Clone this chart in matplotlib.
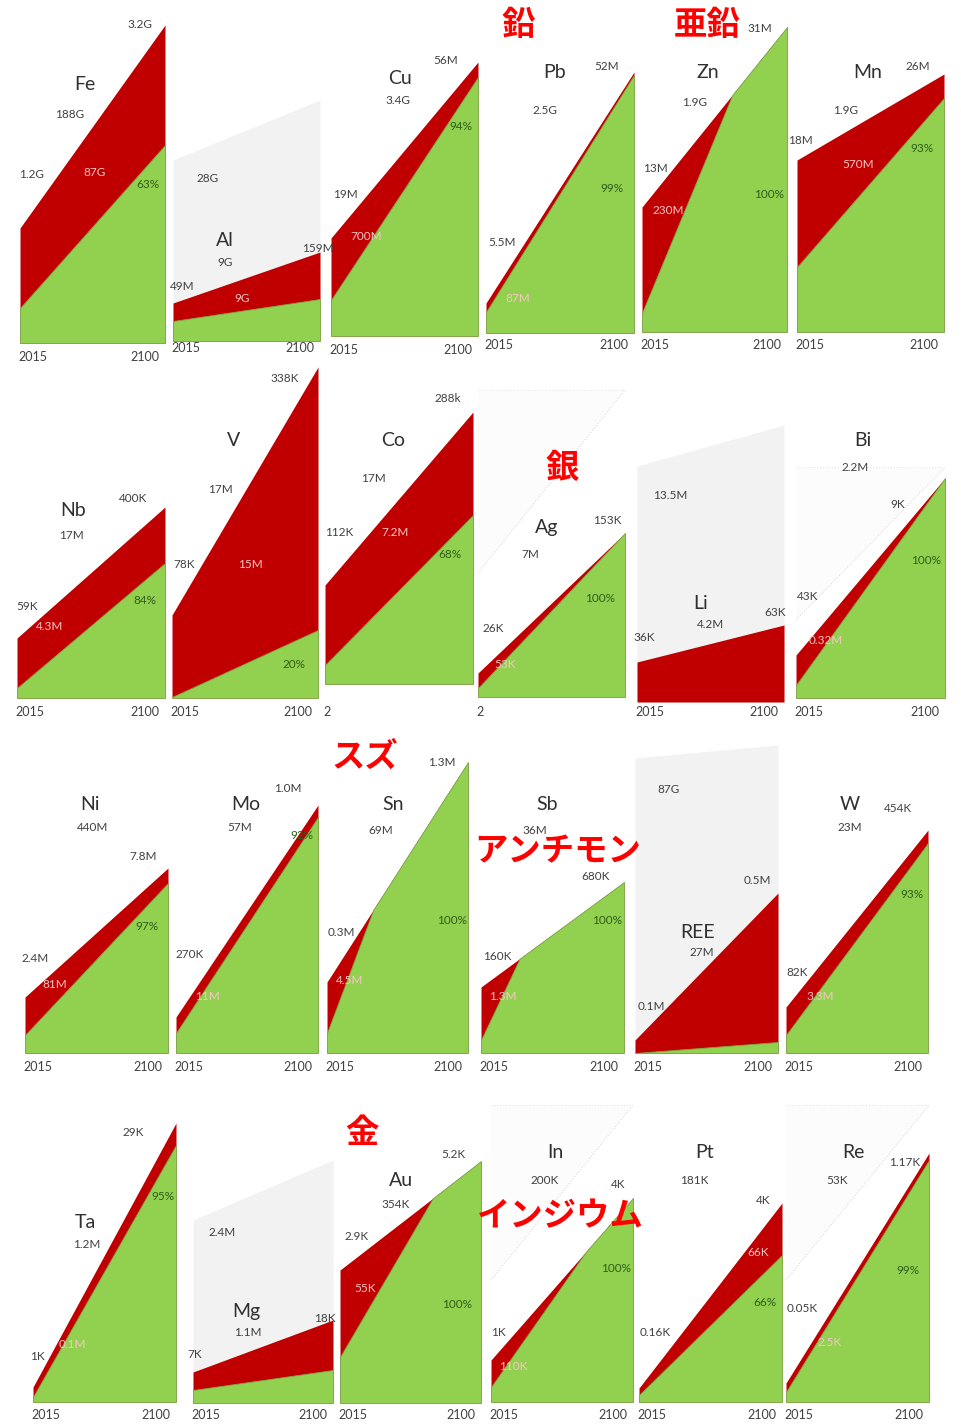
import matplotlib
matplotlib.use("Agg")
import matplotlib.pyplot as plt

# ---- data (heights, arbitrary flow units) ----
elements = ["Fe", "Al", "Cu", "Pb", "Zn", "Mn",
            "Nb", "V", "Co", "Ag", "Li", "Bi",
            "Ni", "Mo", "Sn", "Sb", "REE", "W",
            "Ta", "Mg", "Au", "In", "Pt", "Re"]

total_2015 = [115, 38, 98, 30, 125, 172,
              60, 83, 99, 24, 40, 43,
              56, 36, 71, 66, 13, 46,
              15, 31, 133, 42, 14, 19]
total_2100 = [318, 89, 274, 261, 305, 258,
              191, 331, 272, 164, 77, 220,
              185, 248, 291, 171, 160, 223,
              279, 83, 242, 204, 199, 249]
recycled_2015 = [35, 20, 36, 21, 19, 65,
                 10, 1, 19, 9, 0, 13,
                 18, 20, 20, 13, 0, 18,
                 5, 13, 46, 15, 7, 10]
recycled_2100 = [198, 42, 259, 258, 305, 234,
                 135, 68, 169, 164, 0, 220,
                 170, 236, 291, 171, 11, 210,
                 257, 33, 242, 204, 147, 242]
# year at which recycling covers all demand (None = never)
merge_year = [None, None, None, None, 2068, None,
              None, None, None, None, None, None,
              None, None, 2043, 2038, None, None,
              None, None, 2071, 2072, None, None]
# reserves drawn as a grey block
reserve = {"Al": (181, 241), "Li": (236, 277), "REE": (295, 308), "Mg": (183, 243)}
# faint dotted wedges
wedge = {"Ag": (124, 307), "Bi": (78, 231), "In": (122, 297), "Re": (122, 297)}

cum_label = ["188G", "9G", "3.4G", "2.5G", "1.9G", "1.9G",
             "17M", "17M", "17M", "7M", "4.2M", "2.2M",
             "440M", "57M", "69M", "36M", "27M", "23M",
             "1.2M", "1.1M", "354K", "200K", "181K", "53K"]
start_label = ["1.2G", "49M", "19M", "5.5M", "13M", "18M",
               "59K", "78K", "112K", "26K", "36K", "43K",
               "2.4M", "270K", "0.3M", "160K", "0.1M", "82K",
               "1K", "7K", "2.9K", "1K", "0.16K", "0.05K"]
end_label = ["3.2G", "159M", "56M", "52M", "31M", "26M",
             "400K", "338K", "288k", "153K", "63K", "9K",
             "7.8M", "1.0M", "1.3M", "680K", "0.5M", "454K",
             "29K", "18K", "5.2K", "4K", "4K", "1.17K"]
mined_label = ["87G", "9G", "700M", "87M", "230M", "570M",
               "4.3M", "15M", "7.2M", "53K", None, "0.32M",
               "81M", "11M", "4.5M", "1.3M", None, "3.3M",
               "0.1M", None, "55K", "110K", "66K", "2.5K"]
share_label = ["63%", None, "94%", "99%", "100%", "93%",
               "84%", "20%", "68%", "100%", None, "100%",
               "97%", "92%", "100%", "100%", None, "93%",
               "95%", None, "100%", "100%", "66%", "99%"]
reserve_label = {"Al": "28G", "Li": "13.5M", "REE": "87G", "Mg": "2.4M"}

headers = ["鉛", "亜鉛", "銀", "スズ", "アンチモン", "金", "インジウム"]

# ---- layout (pixels in a 961x1425 canvas) ----
W, H = 961, 1425
row_top = [20, 20, 20, 20, 20, 20,
           365, 365, 365, 365, 365, 365,
           740, 740, 740, 740, 740, 740,
           1100, 1100, 1100, 1100, 1100, 1100]
panel_lr = [(20, 165), (173, 320), (331, 478), (486, 634), (642, 787), (797, 944),
            (17, 165), (172, 318), (325, 473), (478, 625), (637, 784), (796, 945),
            (25, 168), (176, 318), (327, 468), (481, 624), (635, 778), (786, 928),
            (33, 176), (193, 333), (340, 481), (491, 633), (639, 782), (786, 929)]
panel_bottom = [343, 341, 336, 333, 332, 332,
                698, 698, 684, 697, 702, 698,
                1053, 1053, 1053, 1053, 1053, 1053,
                1402, 1403, 1403, 1402, 1402, 1402]
year_y = [357, 348, 350, 345, 345, 345] + [712] * 6 + [1067] * 6 + [1415] * 6
text_pos = {
    "Fe": [(85, 85), (70, 114), (32, 175), (140, 24), (95, 173), (148, 184)],
    "Al": [(225, 240), (225, 262), (182, 287), (318, 249), (242, 299), None],
    "Cu": [(400, 78), (398, 101), (345, 195), (446, 61), (366, 237), (461, 126)],
    "Pb": [(555, 73), (545, 110), (502, 243), (607, 67), (518, 298), (612, 188)],
    "Zn": [(708, 73), (695, 102), (655, 168), (760, 28), (668, 210), (769, 194)],
    "Mn": [(868, 73), (846, 111), (800, 140), (918, 67), (858, 165), (922, 148)],
    "Nb": [(73, 511), (71, 535), (27, 607), (133, 498), (50, 627), (145, 601)],
    "V": [(234, 440), (220, 490), (184, 565), (285, 379), (250, 565), (294, 665)],
    "Co": [(393, 440), (373, 478), (339, 532), (448, 399), (395, 532), (450, 555)],
    "Ag": [(547, 528), (530, 555), (493, 629), (607, 521), (505, 665), (600, 598)],
    "Li": [(701, 603), (711, 625), (644, 638), (775, 612), None, None],
    "Bi": [(863, 440), (855, 467), (808, 597), (898, 505), (826, 640), (926, 560)],
    "Ni": [(90, 804), (93, 827), (35, 959), (143, 856), (55, 985), (147, 927)],
    "Mo": [(246, 804), (240, 827), (190, 954), (288, 788), (207, 996), (302, 835)],
    "Sn": [(393, 804), (381, 831), (341, 933), (442, 762), (350, 980), (452, 920)],
    "Sb": [(547, 804), (535, 831), (497, 956), (596, 876), (503, 997), (607, 920)],
    "REE": [(698, 932), (702, 952), (651, 1007), (757, 880), None, None],
    "W": [(850, 804), (850, 827), (797, 972), (898, 808), (820, 996), (912, 895)],
    "Ta": [(85, 1222), (87, 1245), (37, 1357), (133, 1133), (72, 1344), (163, 1196)],
    "Mg": [(246, 1312), (248, 1332), (195, 1355), (325, 1318), None, None],
    "Au": [(401, 1180), (396, 1204), (357, 1236), (453, 1155), (365, 1288), (457, 1305)],
    "In": [(555, 1153), (545, 1180), (498, 1333), (618, 1185), (513, 1367), (616, 1268)],
    "Pt": [(705, 1153), (694, 1180), (655, 1332), (763, 1200), (758, 1252), (765, 1303)],
    "Re": [(853, 1153), (837, 1180), (802, 1308), (905, 1162), (830, 1343), (908, 1270)],
}
reserve_pos = {"Al": (208, 178), "Li": (670, 496), "REE": (668, 790), "Mg": (222, 1233)}
header_pos = [(518, 25), (707, 25), (562, 468), (365, 757), (558, 852), (362, 1133), (560, 1217)]

RED = "#C00000"
GREEN = "#92D050"
GREY = "#F2F2F2"
TXT = "#404040"
LATIN = ["Lato", "DejaVu Sans"]

fig = plt.figure(figsize=(W / 100, H / 100), dpi=100)


def ftext(x, y, s, **kw):
    kw.setdefault("family", LATIN)
    fig.text(x / W, 1 - y / H, s, ha="center", va="center", **kw)


for i, el in enumerate(elements):
    left, right = panel_lr[i]
    bottom, top = panel_bottom[i], row_top[i]
    ax = fig.add_axes([left / W, 1 - bottom / H, (right - left) / W, (bottom - top) / H])
    ax.set_xlim(2015, 2100)
    ax.set_ylim(0, bottom - top)
    ax.axis("off")

    if el in wedge:
        lo, hi = wedge[el]
        ax.fill_between([2015, 2100], [lo, hi], [hi, hi], color="#fcfcfc", lw=0)
        ax.plot([2015, 2100], [lo, hi], ls=":", color="#e0e0e0", lw=0.8)
        ax.plot([2015, 2100], [hi, hi], ls=":", color="#e8e8e8", lw=0.8)
    if el in reserve:
        r0, r1 = reserve[el]
        ax.fill_between([2015, 2100], 0, [r0, r1], color=GREY, lw=0)

    t0, t1 = total_2015[i], total_2100[i]
    m = merge_year[i]
    if m is None:
        years = [2015, 2100]
        tot = [t0, t1]
        rec = [recycled_2015[i], recycled_2100[i]]
    else:
        tm = t0 + (t1 - t0) * (m - 2015) / 85
        years = [2015, m, 2100]
        tot = [t0, tm, t1]
        rec = [recycled_2015[i], tm, t1]
    ax.fill_between(years, 0, tot, color=RED, lw=0)
    if max(rec) > 0:
        ax.fill_between(years, 0, rec, color=GREEN, edgecolor="#7da84a", lw=0.6)

    pos = text_pos[el]
    ftext(*pos[0], el, fontsize=14, color="#303030")
    ftext(*pos[1], cum_label[i], fontsize=8.5, color=TXT)
    ftext(*pos[2], start_label[i], fontsize=8.5, color=TXT)
    ftext(*pos[3], end_label[i], fontsize=8.5, color=TXT)
    if mined_label[i] is not None:
        ftext(*pos[4], mined_label[i], fontsize=8.5, color="#f6c6c6")
    if share_label[i] is not None:
        ftext(*pos[5], share_label[i], fontsize=8.5, color="#2f5e1a")
    if el in reserve_label:
        ftext(*reserve_pos[el], reserve_label[el], fontsize=8.5, color=TXT)

    # year ticks
    if el in ("Co", "Ag"):
        ftext(left + 2, year_y[i], "2", fontsize=9, color=TXT)
    else:
        ftext(left + 13, year_y[i], "2015", fontsize=9, color=TXT)
        ftext(right - 20, year_y[i], "2100", fontsize=9, color=TXT)

for s, (x, y) in zip(headers, header_pos):
    ftext(x, y, s, fontsize=24, color="#FF0000", weight="bold",
          family=["Noto Sans CJK JP", "DejaVu Sans"])

fig.savefig("out.png", dpi=100, facecolor="white")
